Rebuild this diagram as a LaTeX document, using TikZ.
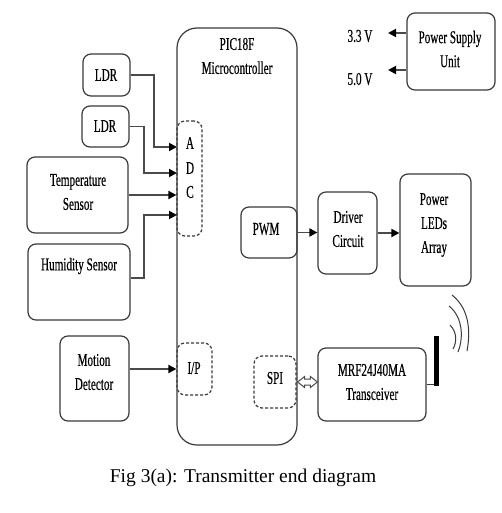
\documentclass[tikz,border=0pt]{standalone}
\usepackage{fontspec}
\setmainfont{Liberation Serif}
\newfontfamily\lbl[FakeStretch=0.62,FakeBold=0.4]{Liberation Serif}
\usetikzlibrary{arrows.meta,fit}
\definecolor{edge}{HTML}{3A3A3A}
\definecolor{wire}{HTML}{4A4A4A}
\begin{document}
\begin{tikzpicture}[x=1pt,y=-1pt,
  box/.style={draw=edge, line width=1.2pt, rounded corners=8pt, inner sep=0pt},
  dbox/.style={box, dash pattern=on 3pt off 2pt},
  txt/.style={font=\lbl\fontsize{18}{24}\selectfont, align=center, inner sep=0pt},
  wirestyle/.style={draw=wire, line width=1.8pt},
  arr/.style={wirestyle, -{Triangle[length=8pt,width=8pt,color=black]}},
  hollowarrow/.style={draw=wire, line width=1pt, fill=white, line join=miter},
]
\useasboundingbox (0,0) rectangle (502,513);
\fill[white] (0,0) rectangle (502,513);

% boxes
\node[box, rounded corners=20pt, fit={(177,28) (297,445)}] (mcu) {};
\node[dbox, fit={(177,121) (202,236)}] (adc) {};
\node[dbox, fit={(177,343) (212,395)}] (ip) {};
\node[box, fit={(241,207) (297,258)}] (pwm) {};
\node[dbox, fit={(254,356) (296,408)}] (spi) {};
\node[box, fit={(83,54) (130,96)}] (ldr1) {};
\node[box, fit={(82,106) (129,147)}] (ldr2) {};
\node[box, fit={(27,157) (128,233)}] (temp) {};
\node[box, fit={(28,244) (130,320)}] (hum) {};
\node[box, fit={(60,336) (129,421)}] (mot) {};
\node[box, fit={(318,192) (377,274)}] (drv) {};
\node[box, fit={(400,174) (471,286)}] (leds) {};
\node[box, fit={(407,13) (495,90)}] (psu) {};
\node[box, fit={(318,348) (426,421)}] (trx) {};

% texts
\node[txt, text height=12pt] (mcut) at (237,68) {PIC18F\\Microcontroller};
\node[txt] (adca) at (190,143) {A};
\node[txt] (adcd) at (190,168) {D};
\node[txt] (adcc) at (190,192) {C};
\node[txt] (ipt) at (194,368) {I/P};
\node[txt] (pwmt) at (266,229) {PWM};
\node[txt] (spit) at (275,378) {SPI};
\node[txt] (ldr1t) at (106,75) {LDR};
\node[txt] (ldr2t) at (105,126) {LDR};
\node[txt] (tempt) at (78,192) {Temperature\\Sensor};
\node[txt] (humt) at (79,266) {Humidity Sensor};
\node[txt] (mott) at (94,372) {Motion\\Detector};
\node[txt] (drvt) at (348,229) {Driver\\Circuit};
\node[txt] (ledst) at (434,225) {Power\\LEDs\\Array};
\node[txt] (psut) at (450,49) {Power Supply\\Unit};
\node[txt] (trxt) at (372,382) {MRF24J40MA\\Transceiver};
\node[txt] (v33t) at (360,36) {3.3 V};
\node[txt] (v50t) at (360,79) {5.0 V};

% ADC inputs
\coordinate (in1) at (177,147);
\coordinate (in2) at (177,173);
\coordinate (in4) at (177,215);
\draw[arr] (ldr1.east) -| ([xshift=-23pt]in1) -- (in1);
\draw[arr] (ldr2.east) -| ([xshift=-33pt]in2) -- (in2);
\draw[arr] (temp.east) -- (temp.east -| adc.west);
\draw[arr] ([yshift=4pt]hum.east) -| ([xshift=-33pt]in4) -- (in4);
\draw[arr] (mot.east |- ip.west) -- (ip.west);

% outputs
\draw[arr] (pwm.east) -- (pwm.east -| drv.west);
\draw[arr] (drv.east) -- (drv.east -| leds.west);

% SPI <-> transceiver hollow double arrow
\coordinate (dl) at ([xshift=1pt]spi.east);
\coordinate (dr) at (spi.east -| trx.west);
\draw[hollowarrow] (dl) -- ++(7,-5.5) -- ++(0,2.5) -- ([shift={(-7,-3)}]dr)
  -- ++(0,-2.5) -- (dr) -- ++(-7,5.5) -- ++(0,-2.5) -- ([shift={(7,3)}]dl)
  -- ++(0,2.5) -- cycle;

% power supply
\coordinate (v33) at (388,33);
\coordinate (v50) at (388,70);
\draw[arr] ([yshift=18.5pt]psu.west) -- (v33);
\draw[arr] ([yshift=-18.5pt]psu.west) -- (v50);

% antenna
\node[fill=black, inner sep=0pt, fit={(434,336) (439,386)}] (ant) {};
\draw[draw=edge, line width=1.2pt] (trx.east) -- (trx.east -| ant.west);
\draw[draw=edge, line width=1pt] (450,325) .. controls (457,332) and (457,342) .. (453,349);
\draw[draw=edge, line width=1pt] (449,306) .. controls (464,318) and (463,340) .. (458,352);
\draw[draw=edge, line width=1pt] (452,295) .. controls (471,310) and (470,335) .. (467,351);

% caption
\node[font=\fontsize{19.5}{22}\selectfont, inner sep=0pt] (cap) at (243,478) {Fig 3(a): Transmitter end diagram};
\end{tikzpicture}
\end{document}
